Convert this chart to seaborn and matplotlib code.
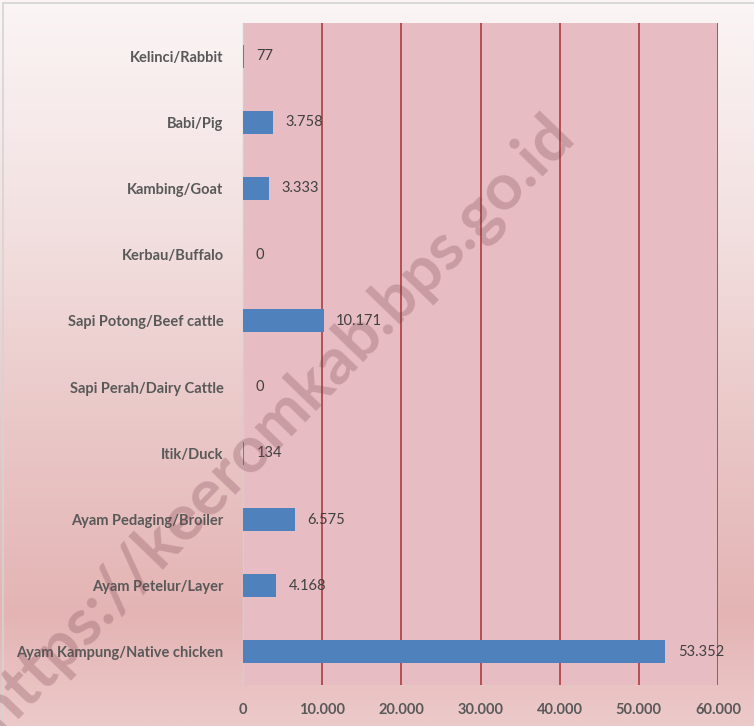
import numpy as np
import pandas as pd
import matplotlib
matplotlib.use("Agg")
import matplotlib.pyplot as plt
import seaborn as sns
from matplotlib.colors import LinearSegmentedColormap
from matplotlib.patches import Rectangle

categories = ["Kelinci/Rabbit", "Babi/Pig", "Kambing/Goat", "Kerbau/Buffalo",
              "Sapi Potong/Beef cattle", "Sapi Perah/Dairy Cattle", "Itik/Duck",
              "Ayam Pedaging/Broiler", "Ayam Petelur/Layer",
              "Ayam Kampung/Native chicken"]
values = [77, 3758, 3333, 0, 10171, 0, 134, 6575, 4168, 53352]
xticks = [0, 10000, 20000, 30000, 40000, 50000, 60000]
xtick_labels = ["0", "10.000", "20.000", "30.000", "40.000", "50.000", "60.000"]

sns.set_theme(style="white")
plt.rcParams['font.family'] = ['Lato', 'DejaVu Sans']

fig = plt.figure(figsize=(7.54, 7.26), dpi=100)

# background gradient
bg = fig.add_axes([0, 0, 1, 1], zorder=-10)
cmap = LinearSegmentedColormap.from_list(
    "bg", [(0.0, "#fbf5f5"), (0.3, "#f3e1e1"), (0.55, "#ebcaca"),
           (0.85, "#e4b4b4"), (1.0, "#edcaca")])
grad = np.linspace(0, 1, 256).reshape(-1, 1)
bg.imshow(grad, aspect="auto", cmap=cmap, extent=[0, 1, 0, 1], origin="upper")
bg.axis("off")
fig.patches.append(Rectangle((3 / 754, -0.01), 1.0, 1 - 3 / 726 + 0.01,
                             transform=fig.transFigure, fill=False,
                             edgecolor="#d4d4d4", lw=1.2, zorder=5))

ax = fig.add_axes([243 / 754, 1 - 685 / 726, 475 / 754, 662 / 726])
ax.set_facecolor("#e7bcc2")
df = pd.DataFrame({"category": categories, "value": values})
sns.barplot(data=df, y="category", x="value", orient="h", color="#4f81bd",
            saturation=1, width=0.35, ax=ax, zorder=3, linewidth=0,
            edgecolor="none")

for i, v in enumerate(values):
    ax.annotate(f"{v:,}".replace(",", "."), xy=(v, i), xytext=(9, 0),
                textcoords="offset points", ha="left", va="center",
                fontsize=10.5, color="#404040", zorder=8)

ax.set_xlim(0, 60000)
ax.set_xticks(xticks)
ax.set_xticklabels(xtick_labels)
ax.set_xlabel("")
ax.set_ylabel("")
ax.xaxis.grid(True, color="#a83232", lw=1.1)
ax.yaxis.grid(False)
ax.set_axisbelow(True)
for s in ["top", "right", "bottom"]:
    ax.spines[s].set_visible(False)
ax.spines["left"].set_color("#d0d0d0")
ax.spines["left"].set_linewidth(1)
ax.tick_params(axis="both", length=0)
ax.tick_params(axis="y", pad=14)
ax.tick_params(axis="x", pad=13)
for lab in ax.get_yticklabels() + ax.get_xticklabels():
    lab.set_fontweight("bold")
    lab.set_color("#595959")
    lab.set_fontsize(10.5)

fig.text(0.366, 0.416, "https://keeromkab.bps.go.id", rotation=46,
         ha="center", va="center", fontsize=47, fontweight="bold",
         color="#7a4450", alpha=0.28, zorder=6)

fig.savefig("out.png", dpi=100)
